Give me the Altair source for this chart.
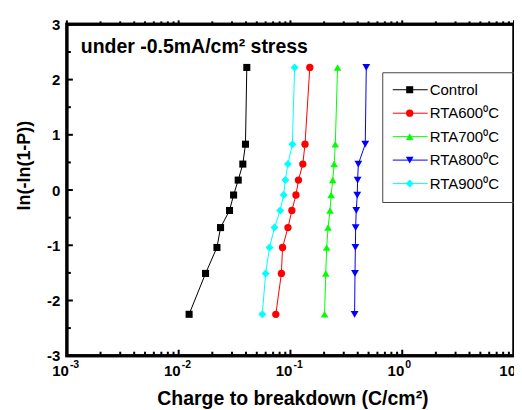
import altair as alt
import pandas as pd

FONT = "Liberation Sans"

# ---- data ----
series_names = ["Control", "RTA600⁰C", "RTA700⁰C", "RTA800⁰C", "RTA900⁰C"]
ln_ln = [2.22, 0.83, 0.47, 0.18, -0.09, -0.37, -0.68, -1.04, -1.51, -2.25]
q_control = [0.0407, 0.0396, 0.0375, 0.0341, 0.0310, 0.0285, 0.0237, 0.0220, 0.0174, 0.0124]
q_rta600 = [0.149, 0.135, 0.129, 0.118, 0.112, 0.103, 0.095, 0.085, 0.083, 0.074]
q_rta700 = [0.264, 0.252, 0.246, 0.239, 0.231, 0.226, 0.217, 0.211, 0.207, 0.202]
q_rta800 = [0.477, 0.467, 0.405, 0.399, 0.396, 0.388, 0.383, 0.381, 0.378, 0.375]
q_rta900 = [0.109, 0.104, 0.095, 0.090, 0.087, 0.081, 0.072, 0.065, 0.060, 0.056]
colors = ["#000000", "#ff0000", "#00ff00", "#0000ff", "#00ffff"]
shapes = ["square", "circle", "triangle-up", "triangle-down", "diamond"]
marker_sizes = [50, 65, 80, 80, 80]

x_major = [0.001, 0.01, 0.1, 1, 10]
x_exponents = ["-3", "-2", "-1", "0", "1"]
x_minor = [m * d for d in [0.001, 0.01, 0.1, 1] for m in range(2, 10)]
y_major = [-3, -2, -1, 0, 1, 2, 3]
y_minor = [-2.5, -1.5, -0.5, 0.5, 1.5, 2.5]
annotation = "under -0.5mA/cm² stress"
x_title = "Charge to breakdown (C/cm²)"
y_title = "ln(-ln(1-P))"

# the line legend gets its own (invisibly different) domain so it is not merged
line_names = [n + "\u200b" for n in series_names]

rows = []
for name, lname, vals in zip(series_names, line_names,
                             [q_control, q_rta600, q_rta700, q_rta800, q_rta900]):
    for q, y in zip(vals, ln_ln):
        rows.append({"series": name, "series_line": lname, "q": q, "y": y})
df = pd.DataFrame(rows)

W, H = 448, 332
x_scale = alt.Scale(type="log", domain=[0.001, 10], nice=False)
y_scale = alt.Scale(domain=[-3, 3], nice=False, zero=False)

x_axis = alt.Axis(
    orient="bottom", values=x_major, labels=False, ticks=False,
    domain=False, grid=False,
    title=x_title, titleFontSize=19.5, titleX=W / 2 + 2, titleAlign="center",
    titleY=49, titleBaseline="alphabetic")
y_axis = alt.Axis(
    orient="left", values=y_major, labelExpr="'' + datum.value", ticks=False,
    domain=False, grid=False, labelPadding=7, labelFontSize=15,
    title=y_title, titleFontSize=18, titleX=-42, titleY=141,
    titleBaseline="middle")

LEG_X, LEG_Y = 316, 48
stroke_legend = alt.Legend(
    orient="none", legendX=LEG_X, legendY=LEG_Y, title=None,
    symbolType="M-5,0H5", symbolSize=49, symbolStrokeWidth=1,
    symbolOffset=10.5,
    labelFont=FONT, labelFontSize=15, labelColor="black", labelOffset=12,
    rowPadding=7.5, padding=10,
)
# marker legend drawn over the line legend; its hidden labels only size the frame
shape_legend = alt.Legend(
    orient="none", legendX=LEG_X, legendY=LEG_Y, title=None,
    symbolStrokeWidth=0, symbolOpacity=1, symbolOffset=10,
    labelFont=FONT, labelFontSize=15, labelOpacity=0, labelOffset=28,
    rowPadding=7.5, padding=10, strokeColor="#444444",
)

X = alt.X("q:Q", scale=x_scale, axis=x_axis)
Y = alt.Y("y:Q", scale=y_scale, axis=y_axis)

lines = alt.Chart(df).mark_line(strokeWidth=1).encode(
    x=X, y=Y,
    stroke=alt.Stroke("series_line:N", scale=alt.Scale(domain=line_names, range=colors),
                      legend=stroke_legend),
    detail="series:N",
    order=alt.Order("y:Q", sort="ascending"),
)

points = alt.Chart(df).mark_point(filled=True, opacity=1).encode(
    x=X, y=Y,
    fill=alt.Fill("series:N", scale=alt.Scale(domain=series_names, range=colors),
                  legend=shape_legend),
    shape=alt.Shape("series:N", scale=alt.Scale(domain=series_names, range=shapes),
                    legend=shape_legend),
    size=alt.Size("series:N", scale=alt.Scale(domain=series_names, range=marker_sizes),
                  legend=shape_legend),
)

xmaj_df = pd.DataFrame({"v": x_major, "e": x_exponents})
xmin_df = pd.DataFrame({"v": x_minor})
ymaj_df = pd.DataFrame({"v": y_major})
ymin_df = pd.DataFrame({"v": y_minor})
frame_df = pd.DataFrame({"x0": [x_major[0]], "x1": [x_major[-1]],
                         "y0": [y_major[0]], "y1": [y_major[-1]]})

XV = alt.X("v:Q", scale=x_scale, axis=x_axis)
YV = alt.Y("v:Q", scale=y_scale, axis=y_axis)


def xticks(data, y0, y1):
    return alt.Chart(data).mark_rule(color="black", strokeWidth=2).encode(
        x=XV, y=alt.value(y0), y2=alt.value(y1))


def yticks(data, x0, x1):
    return alt.Chart(data).mark_rule(color="black", strokeWidth=2).encode(
        y=YV, x=alt.value(x0), x2=alt.value(x1))


tick_layers = [
    xticks(xmaj_df, H, H - 6), xticks(xmin_df, H, H - 4),
    xticks(xmaj_df, 0, -4), xticks(xmin_df, 0, -3),
    yticks(ymaj_df, 0, 6), yticks(ymin_df, 0, 4),
    yticks(ymaj_df, W, W + 4), yticks(ymin_df, W, W + 3),
]

frame = alt.Chart(frame_df).mark_rect(
    fill=None, fillOpacity=0, stroke="black", strokeWidth=3,
).encode(
    x=alt.X("x0:Q", scale=x_scale, axis=x_axis), x2="x1:Q",
    y=alt.Y("y0:Q", scale=y_scale, axis=y_axis), y2="y1:Q",
)

x_base = alt.Chart(xmaj_df).mark_text(
    align="right", baseline="alphabetic", font=FONT, fontWeight="bold",
    fontSize=15, color="black", dx=2,
).encode(x=XV, y=alt.value(H + 20), text=alt.value("10"))
x_exp = alt.Chart(xmaj_df).mark_text(
    align="left", baseline="alphabetic", font=FONT, fontWeight="bold",
    fontSize=10.5, color="black", dx=3,
).encode(x=XV, y=alt.value(H + 12), text="e:N")

ann = alt.Chart(pd.DataFrame({"t": [annotation]})).mark_text(
    align="left", baseline="alphabetic", font=FONT, fontWeight="bold",
    fontSize=19.5, color="black",
).encode(text="t:N", x=alt.value(14), y=alt.value(29))

chart = alt.layer(lines, points, *tick_layers, frame, x_base, x_exp, ann).properties(
    width=W, height=H,
    autosize=alt.AutoSizeParams(type="none"),
    padding={"left": 59, "top": 16, "right": 0, "bottom": 54},
).configure_view(
    stroke="black", strokeWidth=3
).configure_axis(
    labelFont=FONT, labelFontWeight="bold", labelColor="black",
    titleFont=FONT, titleFontWeight="bold", titleColor="black",
)

chart.save("out.html", embed_options={"renderer": "svg", "actions": False})
